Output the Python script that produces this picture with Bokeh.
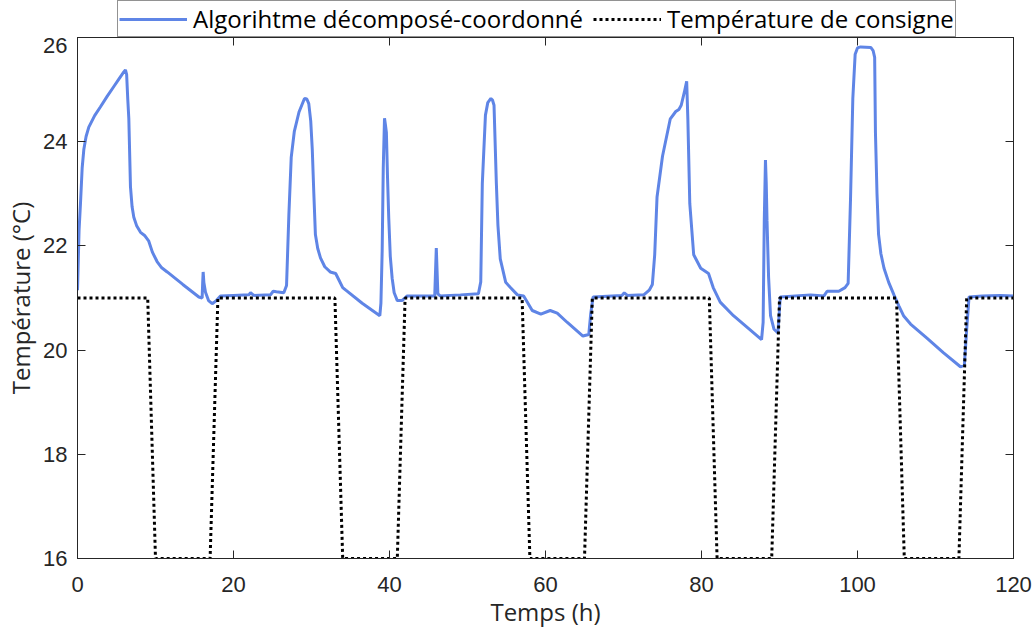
from bokeh.plotting import figure
from bokeh.layouts import column
from bokeh.models import ColumnDataSource, Legend, LegendItem, LinearAxis, FixedTicker, Range1d
from bokeh.embed import file_html
from bokeh.resources import INLINE

# ---- data ----
series_names = ["Algorihtme décomposé-coordonné", "Température de consigne"]

setpoint_time = [0, 9, 10, 17, 18, 33, 34, 41, 42, 57, 58, 65, 66, 81, 82, 89, 90,
                 105, 106, 113, 114, 120]
setpoint_temp = [21, 21, 16, 16, 21, 21, 16, 16, 21, 21, 16, 16, 21, 21, 16, 16, 21,
                 21, 16, 16, 21, 21]

algo_time = [0.0, 0.2, 0.38, 0.6, 0.81, 1.1, 1.45, 2.2, 2.95, 3.8, 4.66, 5.3, 5.94, 6.15,
             6.3, 6.45, 6.58, 6.79, 7.0, 7.22, 7.6, 8.08, 8.6, 9.14, 9.6, 10.2, 10.8, 11.5,
             13.5, 15.56, 15.98, 16.05, 16.11, 16.2, 16.41, 16.8, 17.27, 17.8, 18.33, 20.0,
             21.97, 22.18, 22.6, 24.74, 25.09, 25.5, 26.45, 26.8, 27.1, 27.4, 27.8, 28.4,
             29.1, 29.4, 29.65, 29.9, 30.1, 30.3, 30.5, 30.8, 31.15, 31.7, 32.4, 33.1, 33.5,
             34.0, 34.4, 36.5, 38.76, 38.9, 39.06, 39.2, 39.36, 39.5, 39.6, 39.75, 39.9,
             40.1, 40.34, 40.6, 41.0, 41.6, 42.27, 45.8, 46.0, 46.2, 46.5, 49.1, 51.4, 51.7,
             51.9, 52.3, 52.6, 53.0, 53.2, 53.4, 53.7, 53.9, 54.2, 54.9, 55.5, 56.4, 57.2,
             58.3, 59.4, 60.6, 61.5, 62.8, 64.8, 65.55, 65.8, 66.1, 69.8, 70.1, 70.5, 72.6,
             73.3, 73.7, 74.0, 74.3, 75.0, 76.0, 76.7, 77.1, 77.4, 77.8, 78.1, 78.25, 78.5,
             79.0, 79.9, 80.9, 81.5, 82.4, 84.1, 87.7, 87.9, 88.05, 88.2, 88.3, 88.4, 88.6,
             88.85, 89.3, 89.8, 90.1, 94.0, 95.7, 96.1, 97.6, 98.4, 98.8, 99.1, 99.4, 99.7,
             100.0, 100.4, 101.7, 102.0, 102.2, 102.3, 102.5, 102.7, 103.0, 103.4, 104.0,
             104.7, 105.3, 105.9, 106.8, 108.9, 111.0, 113.2, 113.7, 114.0, 114.3, 116.0,
             118.3, 120.0]
algo_temp = [21.15, 22.3, 22.81, 23.5, 23.85, 24.1, 24.28, 24.5, 24.67, 24.87, 25.06, 25.2,
             25.34, 25.38, 25.29, 24.8, 24.44, 23.14, 22.75, 22.55, 22.38, 22.26, 22.2,
             22.09, 21.88, 21.7, 21.58, 21.5, 21.26, 21.02, 21.0, 21.3, 21.5, 21.3, 21.11,
             20.95, 20.89, 20.95, 21.04, 21.05, 21.06, 21.1, 21.05, 21.06, 21.13, 21.12,
             21.1, 21.24, 22.6, 23.7, 24.2, 24.57, 24.83, 24.82, 24.73, 24.4, 23.85, 23.0,
             22.22, 21.95, 21.77, 21.6, 21.5, 21.47, 21.35, 21.2, 21.15, 20.9, 20.66, 20.9,
             21.9, 23.5, 24.45, 24.3, 24.18, 23.3, 22.55, 21.8, 21.38, 21.1, 20.95, 20.95,
             21.04, 21.04, 21.96, 21.08, 21.04, 21.06, 21.08, 21.31, 23.2, 24.51, 24.75,
             24.83, 24.8, 24.7, 23.2, 22.4, 21.75, 21.3, 21.2, 21.06, 21.04, 20.76, 20.69,
             20.76, 20.71, 20.53, 20.27, 20.3, 20.7, 21.02, 21.05, 21.1, 21.05, 21.06, 21.15,
             21.26, 21.83, 22.94, 23.72, 24.44, 24.58, 24.62, 24.7, 24.95, 25.16, 24.44,
             22.81, 21.83, 21.57, 21.47, 21.2, 20.92, 20.66, 20.2, 20.53, 22.5, 23.65, 23.2,
             22.48, 21.4, 20.66, 20.4, 20.33, 21.02, 21.06, 21.04, 21.13, 21.13, 21.2, 21.28,
             22.87, 24.83, 25.68, 25.8, 25.82, 25.81, 25.75, 25.62, 24.18, 23.0, 22.22,
             21.85, 21.57, 21.3, 21.05, 20.85, 20.66, 20.5, 20.23, 19.95, 19.68, 19.71, 20.4,
             21.02, 21.04, 21.05, 21.04]

x_ticks = [0, 20, 40, 60, 80, 100, 120]
y_ticks = [16, 18, 20, 22, 24, 26]
x_label = "Temps (h)"
y_label = "Température (°C)"

# ---- styles ----
BLUE = "#5F85E6"
AXIS = "#262626"
LABEL_FONT = "Open Sans"
TICK_FONT = "Liberation Sans"
LEG_H = 37

algo_style = dict(line_color=BLUE, line_width=3)
set_style = dict(line_color="black", line_width=3, line_dash="3 3")

algo_src = ColumnDataSource(dict(t=algo_time, T=algo_temp))
set_src = ColumnDataSource(dict(t=setpoint_time, T=setpoint_temp))

# ---- main plot ----
p = figure(width=1035, height=630 - LEG_H, output_backend="svg", toolbar_location=None,
           x_range=Range1d(0, 120), y_range=Range1d(16, 26),
           min_border_left=77, min_border_right=22, min_border_top=0,
           min_border_bottom=72)
p.grid.visible = False
p.outline_line_color = AXIS
p.outline_line_width = 1
p.background_fill_color = "white"
p.border_fill_color = "white"

p.line("t", "T", source=algo_src, **algo_style)
p.line("t", "T", source=set_src, **set_style)

def style_axis(ax, show_labels=True):
    ax.axis_line_color = AXIS
    ax.axis_line_width = 1
    ax.major_tick_line_color = AXIS
    ax.major_tick_in = 8
    ax.major_tick_out = 0
    ax.minor_tick_line_color = None
    ax.minor_tick_out = 0
    ax.minor_tick_in = 0
    if show_labels:
        ax.major_label_text_font = TICK_FONT
        ax.major_label_text_font_size = "22px"
        ax.major_label_text_color = AXIS
    else:
        ax.major_label_text_font_size = "0px"
        ax.major_label_standoff = 0
        ax.major_label_text_color = None

xa = p.xaxis[0]
ya = p.yaxis[0]
xa.ticker = FixedTicker(ticks=x_ticks)
ya.ticker = FixedTicker(ticks=y_ticks)
style_axis(xa)
style_axis(ya)
xa.major_label_standoff = 18
ya.major_label_standoff = 10
xa.axis_label = x_label
ya.axis_label = y_label
for ax in (xa, ya):
    ax.axis_label_text_font = LABEL_FONT
    ax.axis_label_text_font_size = "24px"
    ax.axis_label_text_font_style = "normal"
    ax.axis_label_text_color = AXIS
xa.axis_label_standoff = 0
ya.axis_label_standoff = 3

top_ax = LinearAxis(ticker=FixedTicker(ticks=x_ticks))
right_ax = LinearAxis(ticker=FixedTicker(ticks=y_ticks))
style_axis(top_ax, False)
style_axis(right_ax, False)
p.add_layout(top_ax, "above")
p.add_layout(right_ax, "right")

# ---- legend strip (its frame is aligned with the main frame by the column) ----
lf = figure(width=1035, height=LEG_H, output_backend="svg", toolbar_location=None,
            x_range=Range1d(0, 120), y_range=Range1d(100, 101), min_border=0)
lf.axis.visible = False
lf.grid.visible = False
lf.outline_line_color = None
lf.background_fill_color = "white"
lf.border_fill_color = "white"
la = lf.line("t", "T", source=algo_src, **algo_style)
ls = lf.line("t", "T", source=set_src, **set_style)
legend = Legend(items=[LegendItem(label=series_names[0], renderers=[la]),
                       LegendItem(label=series_names[1], renderers=[ls])],
                orientation="horizontal", location=(40, 0),
                glyph_width=68, label_standoff=6, spacing=10, padding=1, margin=0,
                border_line_color=AXIS, border_line_width=1,
                background_fill_color="white", background_fill_alpha=1,
                label_text_font=LABEL_FONT, label_text_font_size="24px",
                label_text_color="black")
lf.add_layout(legend, "center")

layout = column(lf, p, spacing=0)
open("out.html", "w").write(file_html(layout, INLINE))
